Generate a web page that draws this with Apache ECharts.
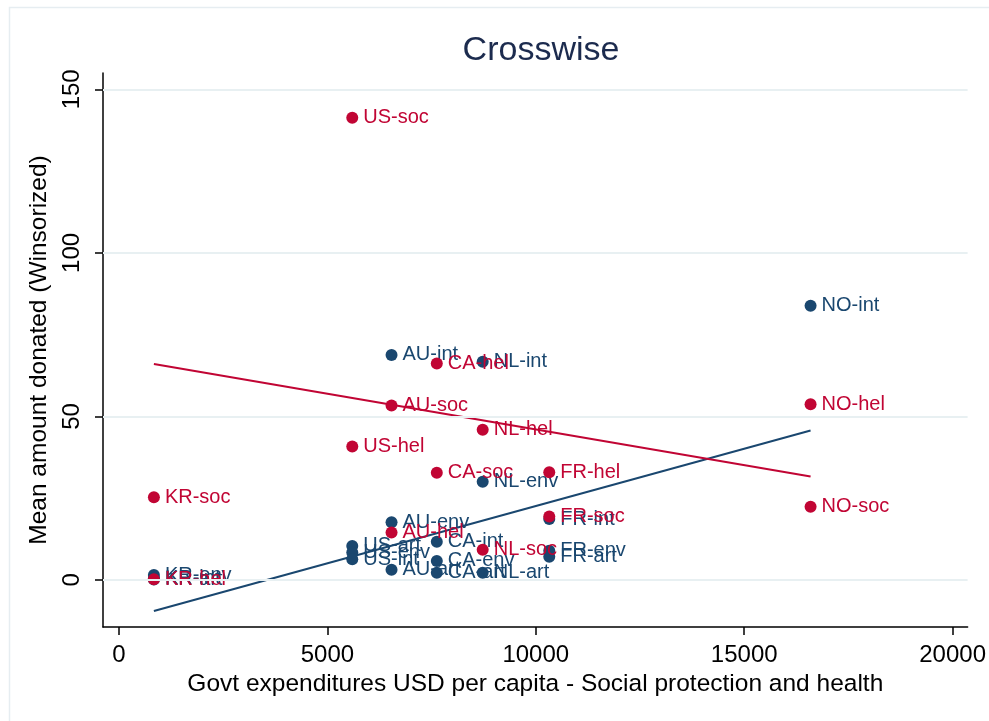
<!DOCTYPE html>
<html>
<head>
<meta charset="utf-8">
<script src="https://cdn.jsdelivr.net/npm/echarts@6/dist/echarts.min.js"></script>
<style>
html,body{margin:0;padding:0;background:#fff;}
#chart{width:989px;height:721px;}
</style>
</head>
<body>
<div id="chart"></div>
<script>
// ---- data ----
const countries = ['KR', 'US', 'AU', 'CA', 'NL', 'FR', 'NO'];
const govtExp   = [838, 5597, 6539, 7625, 8726, 10323, 16592];
// blue group
const intVals = [0.5, 6.3, 68.8, 11.7, 66.7, 18.6, 83.8];
const envVals = [1.5, 8.4, 17.6, 5.8, 30.0, 8.9, null];
const artVals = [0.1, 10.4, 3.1, 2.2, 2.2, 7.1, null];
// red group
const socVals = [25.3, 141.3, 53.3, 32.8, 9.2, 19.4, 22.4];
const helVals = [0.2, 40.8, 14.5, 66.2, 45.9, 32.9, 53.7];
// fitted lines (endpoints)
const fitX      = [838, 16592];
const blueFitY  = [-9.5, 45.7];
const redFitY   = [66.0, 31.6];
// ticks
const xTicks = [0, 5000, 10000, 15000, 20000];
const yTicks = [0, 50, 100, 150];

const BLUE = '#1a476f';
const RED = '#c10534';
const FONT = '"Liberation Sans", Arial, Helvetica, sans-serif';

function build(groups) {
  const out = [];
  groups.forEach(([tag, vals]) => {
    countries.forEach((c, i) => {
      if (vals[i] !== null && vals[i] !== undefined) {
        out.push([govtExp[i], vals[i], c + '-' + tag]);
      }
    });
  });
  return out;
}
const blueData = build([['art', artVals], ['env', envVals], ['int', intVals]]);
const redData = build([['hel', helVals], ['soc', socVals]]);

const chart = echarts.init(document.getElementById('chart'), null, {renderer: 'canvas'});
const labelCfg = (color) => ({
  show: true, position: 'right', distance: 5,
  formatter: p => p.data[2],
  color: color, fontSize: 20, fontFamily: FONT
});

chart.setOption({
  animation: false,
  backgroundColor: '#fff',
  graphic: [{
    type: 'rect', left: 7, top: 5, z: -10,
    shape: {width: 1000, height: 740},
    style: {fill: 'none', stroke: '#e6edf1', lineWidth: 1.5}
  }],
  title: {
    text: 'Crosswise', left: 536, top: 29, textAlign: 'center',
    textStyle: {color: '#1c2b4e', fontSize: 34, fontWeight: 'normal', fontFamily: FONT}
  },
  grid: {left: 103, top: 73, right: 20, bottom: 94, containLabel: false},
  xAxis: {
    type: 'value', min: -383, max: 20359,
    name: 'Govt expenditures USD per capita - Social protection and health',
    nameLocation: 'middle', nameGap: 41,
    nameTextStyle: {color: '#000', fontSize: 24.5, fontFamily: FONT},
    axisLine: {onZero: false, lineStyle: {color: '#000', width: 1.5}},
    axisTick: {show: true, length: 8, customValues: xTicks, lineStyle: {color: '#000', width: 1.5}},
    axisLabel: {customValues: xTicks, formatter: v => String(v), color: '#000', fontSize: 24, fontFamily: FONT, margin: 16},
    splitLine: {show: false}
  },
  yAxis: {
    type: 'value', min: -14.4, max: 155,
    name: 'Mean amount donated (Winsorized)',
    nameLocation: 'middle', nameGap: 44,
    nameTextStyle: {color: '#000', fontSize: 24.5, fontFamily: FONT},
    axisLine: {onZero: false, lineStyle: {color: '#000', width: 1.5}},
    axisTick: {show: true, length: 8, customValues: yTicks, lineStyle: {color: '#000', width: 1.5}},
    axisLabel: {customValues: yTicks, formatter: v => String(v), rotate: 90, color: '#000', fontSize: 24, fontFamily: FONT, margin: 19},
    splitLine: {show: false}
  },
  series: [
    {
      type: 'line', name: 'blueFit', z: 1, symbol: 'none', silent: true,
      data: fitX.map((x, i) => [x, blueFitY[i]]),
      lineStyle: {color: BLUE, width: 2},
      markLine: {
        silent: true, symbol: 'none', label: {show: false},
        lineStyle: {color: '#e8f0f2', width: 2, type: 'solid'},
        data: yTicks.map(v => ({yAxis: v}))
      }
    },
    {
      type: 'line', name: 'redFit', z: 1, symbol: 'none', silent: true,
      data: fitX.map((x, i) => [x, redFitY[i]]),
      lineStyle: {color: RED, width: 2}
    },
    {
      type: 'scatter', name: 'blue', z: 2, symbolSize: 12,
      data: blueData, itemStyle: {color: BLUE, opacity: 1},
      label: labelCfg(BLUE)
    },
    {
      type: 'scatter', name: 'red', z: 3, symbolSize: 12,
      data: redData, itemStyle: {color: RED, opacity: 1},
      label: labelCfg(RED)
    }
  ]
});
</script>
</body>
</html>
